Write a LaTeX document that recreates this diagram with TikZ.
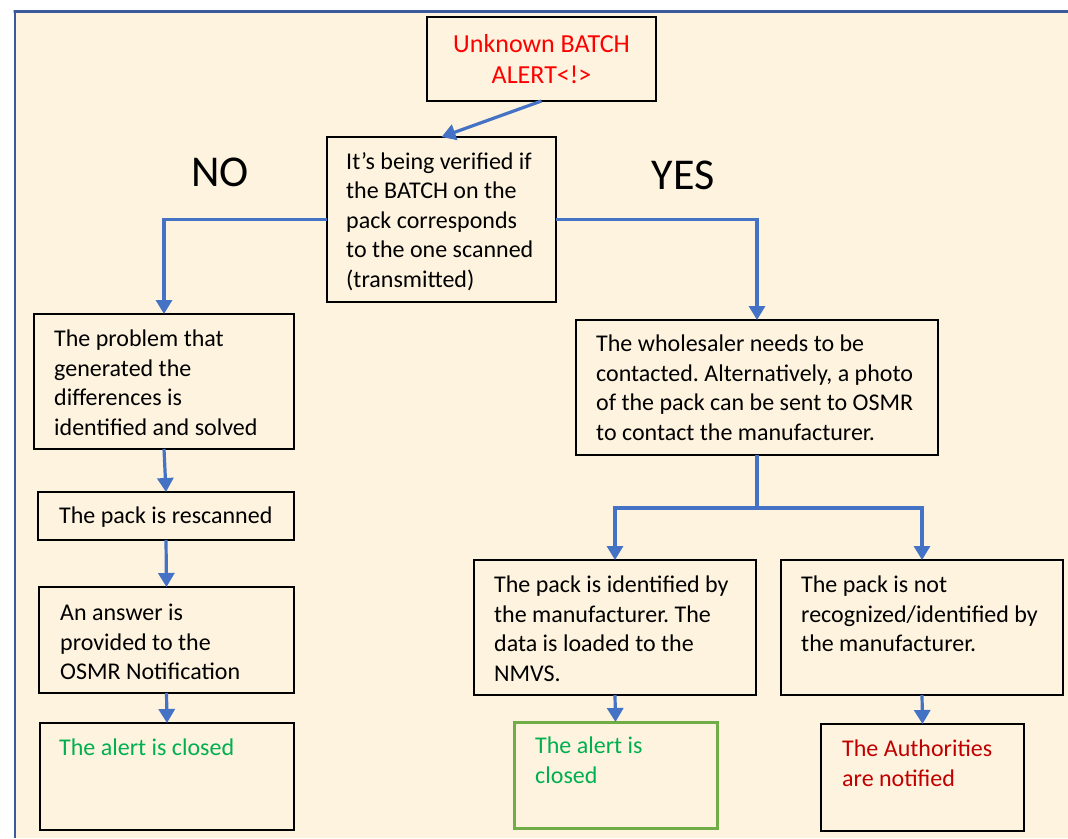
\documentclass[tikz,border=0pt]{standalone}
\usepackage{fontspec}
\setmainfont{Carlito}
\usetikzlibrary{arrows.meta}
\frenchspacing
\definecolor{paper}{HTML}{FEF3DE}
\definecolor{frameblue}{HTML}{3A5A9A}
\definecolor{flowblue}{HTML}{4472C4}
\definecolor{alertred}{HTML}{FF0000}
\definecolor{okgreen}{HTML}{00B050}
\definecolor{boxgreen}{HTML}{70AD47}
\definecolor{darkred}{HTML}{C00000}
\tikzset{
  stepbox/.style={draw=black, line width=2pt, fill=paper, outer sep=0pt, inner sep=0pt},
  greenbox/.style={stepbox, draw=boxgreen, line width=3pt},
  txt/.style={anchor=north west, inner sep=0pt, align=left,
    font=\fontsize{24}{29.5}\selectfont},
  bigword/.style={inner sep=0pt, font=\fontsize{44}{53}\selectfont},
  flow/.style={draw=flowblue, line width=3.2pt,
    -{Triangle[width=16pt,length=14pt]}},
  flowline/.style={draw=flowblue, line width=3.2pt}
}
\begin{document}
\begin{tikzpicture}[x=1pt,y=-1pt]
\useasboundingbox (0,0) rectangle (1068,838);
% page background and frame
\fill[white] (0,0) rectangle (1068,838);
\fill[paper] (15,11) rectangle (1068,838);
\draw[frameblue, line width=2.8pt] (1068,11.3) -- (13.6,11.3) -- (15,11.3) -- (15,838);

% boxes
\node[stepbox, minimum width=229, minimum height=84, align=center,
  text=alertred, font=\fontsize{26}{31.5}\selectfont]
  (alert) at (541.5,59) {Unknown BATCH\\ALERT<!>};
\node[stepbox, minimum width=229, minimum height=165] (verify) at (441.5,219.5) {};
\node[stepbox, minimum width=260, minimum height=135] (problem) at (164,381.5) {};
\node[stepbox, minimum width=256, minimum height=48] (rescan) at (166,516) {};
\node[stepbox, minimum width=255, minimum height=106] (answer) at (166.5,640) {};
\node[stepbox, minimum width=254, minimum height=107] (closedA) at (167,776.5) {};
\node[stepbox, minimum width=362, minimum height=135] (wholesaler) at (757,387.5) {};
\node[stepbox, minimum width=282, minimum height=135] (identified) at (615,627.5) {};
\node[stepbox, minimum width=282, minimum height=135] (notrec) at (922,627.5) {};
\node[greenbox, minimum width=203, minimum height=106] (closedB) at (615.5,775) {};
\node[stepbox, minimum width=203, minimum height=107] (auth) at (922.5,777.5) {};

% box texts
\node[txt] (verify-t) at ([shift={(19,15)}]verify.north west)
  {It’s being verified if\\the BATCH on the\\pack corresponds\\to the one scanned\\(transmitted)};
\node[txt] (problem-t) at ([shift={(20,16)}]problem.north west)
  {The problem that\\generated the\\differences is\\identified and solved};
\node[txt] (rescan-t) at ([shift={(21,15)}]rescan.north west) {The pack is rescanned};
\node[txt] (answer-t) at ([shift={(21,17)}]answer.north west)
  {An answer is\\provided to the\\OSMR Notification};
\node[txt, text=okgreen] (closedA-t) at ([shift={(19,16)}]closedA.north west) {The alert is closed};
\node[txt] (wholesaler-t) at ([shift={(20,15)}]wholesaler.north west)
  {The wholesaler needs to be\\contacted. Alternatively, a photo\\of the pack can be sent to OSMR\\to contact the manufacturer.};
\node[txt] (identified-t) at ([shift={(20,16)}]identified.north west)
  {The pack is identified by\\the manufacturer. The\\data is loaded to the\\NMVS.};
\node[txt] (notrec-t) at ([shift={(20,16)}]notrec.north west)
  {The pack is not\\recognized/identified by\\the manufacturer.};
\node[txt, text=okgreen] (closedB-t) at ([shift={(21,15)}]closedB.north west) {The alert is\\closed};
\node[txt, text=darkred] (auth-t) at ([shift={(21,16)}]auth.north west) {The Authorities\\are notified};

% branch labels
\node[bigword] (no) at (220,172) {NO};
\node[bigword] (yes) at (683,175) {YES};

% connectors
\draw[flow] (alert.south) -- (verify.north);
\draw[flow] (verify.west) -| (problem.north);
\draw[flow] (verify.east) -| (wholesaler.north);
\draw[flow] (problem.south) -- (rescan.north);
\draw[flow] (rescan.south) -- (answer.north);
\draw[flow] (answer.south) -- (closedA.north);
\coordinate (split) at (757,508);
\draw[flowline] (wholesaler.south) -- (split);
\draw[flow] (split) -| (identified.north);
\draw[flow] (split) -| (notrec.north);
\draw[flow] (identified.south) -- (closedB.north);
\draw[flow] (notrec.south) -- (auth.north);
\end{tikzpicture}
\end{document}
